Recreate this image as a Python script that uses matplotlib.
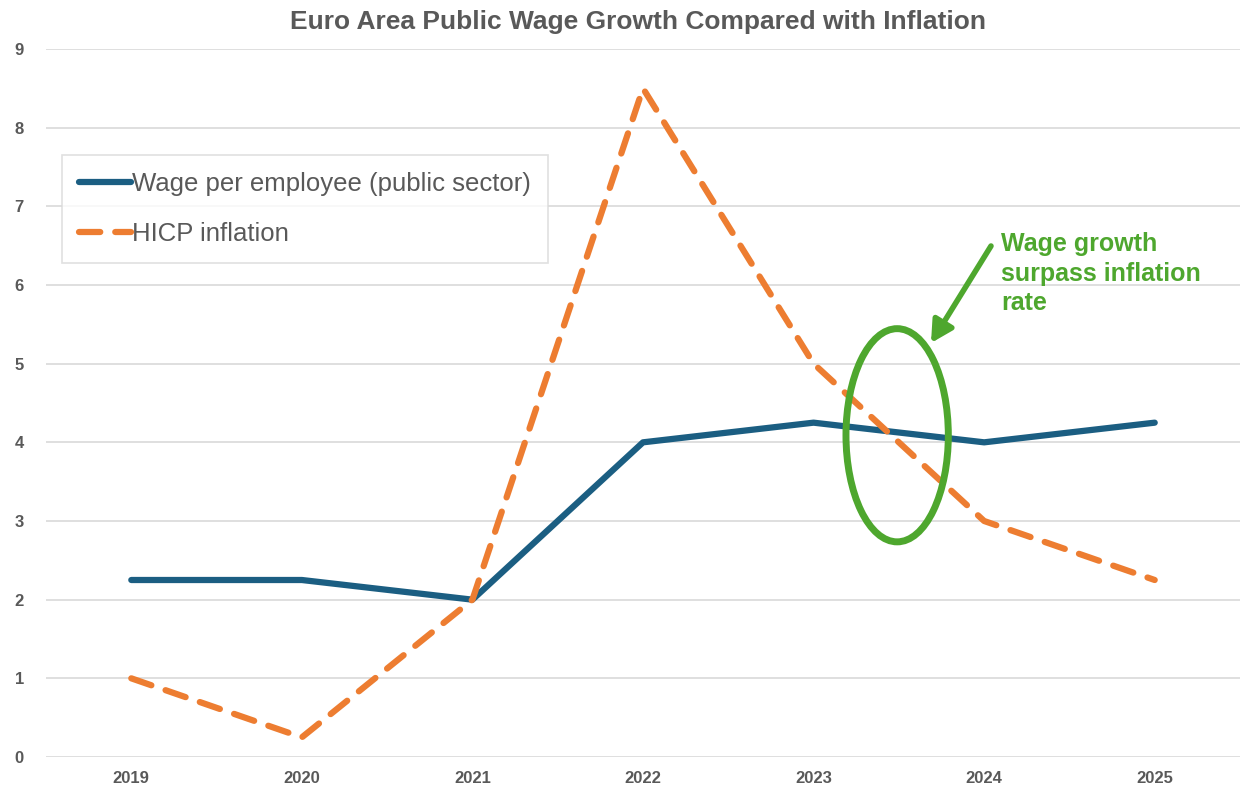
import matplotlib
matplotlib.use("Agg")
import matplotlib.pyplot as plt
from matplotlib.patches import Ellipse

years = ["2019", "2020", "2021", "2022", "2023", "2024", "2025"]
wage = [2.25, 2.25, 2.0, 4.0, 4.25, 4.0, 4.25]
hicp = [1.0, 0.25, 2.0, 8.5, 5.0, 3.0, 2.25]
yticks = [0, 1, 2, 3, 4, 5, 6, 7, 8, 9]

plt.rcParams['font.family'] = ['Liberation Sans', 'DejaVu Sans']

fig = plt.figure(figsize=(12.55, 7.99), dpi=100)
ax = fig.add_axes([46/1255, 1-757/799, (1240-46)/1255, (757-49)/799])

x = list(range(len(years)))
ax.plot(x, wage, color="#1B5E82", lw=4.5, solid_capstyle="round", solid_joinstyle="round",
        label="Wage per employee (public sector)", zorder=3)
ax.plot(x, hicp, color="#ED7D31", lw=4.5, dashes=(3.4, 2.4), dash_capstyle="round",
        label="HICP inflation", zorder=3)

ax.set_xlim(-0.5, 6.5)
ax.set_ylim(0, 9)
ax.set_xticks(x)
ax.set_xticklabels(years)
ax.set_yticks(yticks)
ax.grid(axis="y", color="#D9D9D9", lw=1.2)
ax.set_axisbelow(True)
for s in ax.spines.values():
    s.set_visible(False)
ax.tick_params(length=0, colors="#595959", pad=10)
ax.tick_params(axis="y", pad=16)
for lab in ax.get_xticklabels() + ax.get_yticklabels():
    lab.set_fontweight("bold")
    lab.set_fontsize(12)

fig.text(638/1255, 1-22/799, "Euro Area Public Wage Growth Compared with Inflation",
         ha="center", va="center", fontsize=19, fontweight="bold", color="#595959")

leg = ax.legend(loc="upper left", bbox_to_anchor=((62-46)/1194, (757-155)/708),
                fontsize=18.5, frameon=True, fancybox=False, edgecolor="#D9D9D9",
                handlelength=2.0, handletextpad=0.05, borderpad=0.68, labelspacing=0.98,
                borderaxespad=0)
for t in leg.get_texts():
    t.set_color("#595959")
leg.get_frame().set_linewidth(1.2)

green = "#4EA72E"
ell = Ellipse((4.49, 4.09), width=0.60, height=2.71, fill=False, edgecolor=green, lw=5, zorder=4)
ax.add_patch(ell)
ax.annotate("", xy=(931, 799-343), xycoords="figure pixels",
            xytext=(991, 799-246), textcoords="figure pixels",
            arrowprops=dict(arrowstyle="-|>,head_length=1.3,head_width=0.7",
                            color=green, lw=4, shrinkA=0, shrinkB=0))
fig.text(1001/1255, 1-232/799, "Wage growth\nsurpass inflation\nrate", ha="left", va="top",
         fontsize=18, fontweight="bold", color=green, linespacing=1.3)

fig.savefig("out.png", dpi=100)
